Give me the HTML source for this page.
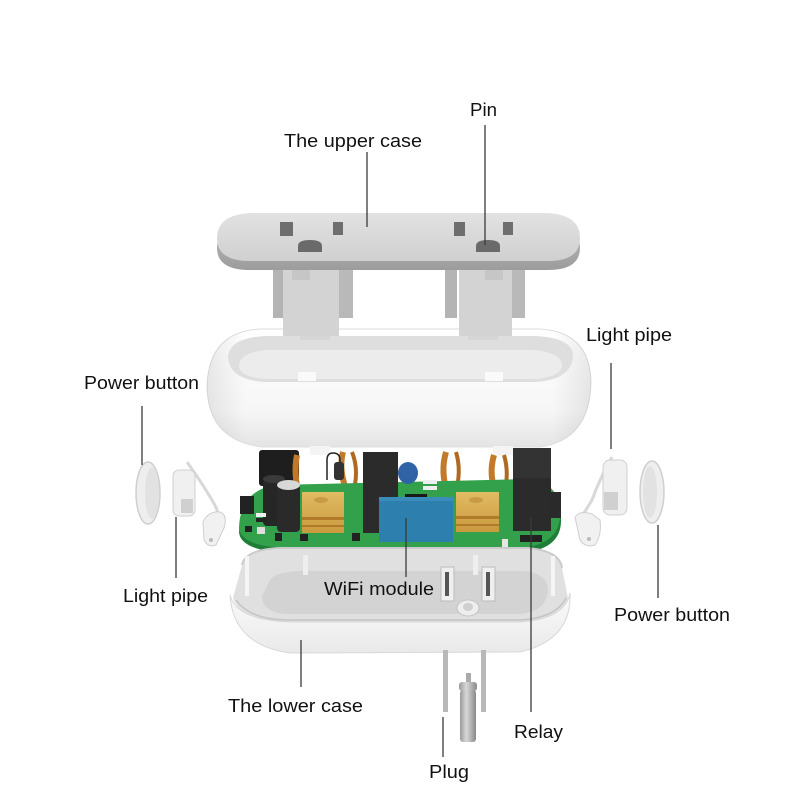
<!DOCTYPE html>
<html><head><meta charset="utf-8"><style>
html,body{margin:0;padding:0;background:#fff;}
svg{display:block;}
text{font-family:"Liberation Sans",Arial,sans-serif;font-size:18.5px;fill:#111;}
</style></head><body>
<svg width="800" height="800" viewBox="0 0 800 800" xmlns="http://www.w3.org/2000/svg">
<defs>
<linearGradient id="plateTop" x1="0" y1="0" x2="0" y2="1"><stop offset="0" stop-color="#e2e2e2"/><stop offset="1" stop-color="#d0d0d0"/></linearGradient>
<linearGradient id="plateEdge" x1="0" y1="0" x2="0" y2="1"><stop offset="0" stop-color="#bdbdbd"/><stop offset="1" stop-color="#9c9c9c"/></linearGradient>
<linearGradient id="shell" x1="0" y1="0" x2="0" y2="1"><stop offset="0" stop-color="#ffffff"/><stop offset="0.7" stop-color="#f6f6f6"/><stop offset="1" stop-color="#e4e4e4"/></linearGradient>
<linearGradient id="shellSide" x1="0" y1="0" x2="1" y2="0"><stop offset="0" stop-color="#000" stop-opacity="0.08"/><stop offset="0.1" stop-color="#000" stop-opacity="0"/><stop offset="0.9" stop-color="#000" stop-opacity="0"/><stop offset="1" stop-color="#000" stop-opacity="0.08"/></linearGradient>
<linearGradient id="gold" x1="0" y1="0" x2="0" y2="1"><stop offset="0" stop-color="#e2bb63"/><stop offset="1" stop-color="#c99a3e"/></linearGradient>
<linearGradient id="cyl" x1="0" y1="0" x2="1" y2="0"><stop offset="0" stop-color="#9a9a9a"/><stop offset="0.4" stop-color="#d8d8d8"/><stop offset="1" stop-color="#8a8a8a"/></linearGradient>
<linearGradient id="lowBody" x1="0" y1="0" x2="0" y2="1"><stop offset="0" stop-color="#fbfbfb"/><stop offset="1" stop-color="#e9e9e9"/></linearGradient>
</defs>

<!-- ===== Upper case (plate) ===== -->
<rect x="273" y="266" width="12" height="52" fill="#b4b4b4"/>
<rect x="338" y="266" width="15" height="52" fill="#b9b9b9"/>
<rect x="283" y="266" width="56" height="70" fill="#d3d3d3"/>
<rect x="292" y="266" width="18" height="14" fill="#c6c6c6"/>
<rect x="445" y="266" width="12" height="52" fill="#b4b4b4"/>
<rect x="510" y="266" width="15" height="52" fill="#b9b9b9"/>
<rect x="459" y="266" width="53" height="70" fill="#d3d3d3"/>
<rect x="485" y="266" width="18" height="14" fill="#c6c6c6"/>
<path d="M250,221 L548,221 Q580,223 580,248 Q580,270 548,270 L250,270 Q217,270 217,248 Q217,223 250,221 Z" fill="url(#plateEdge)"/>
<path d="M250,213 L548,213 Q580,215 580,238 Q580,261 548,261 L250,261 Q217,261 217,238 Q217,215 250,213 Z" fill="url(#plateTop)"/>
<rect x="280" y="222" width="13" height="14" fill="#6e6e6e"/>
<rect x="333" y="222" width="10" height="13" fill="#6e6e6e"/>
<rect x="454" y="222" width="11" height="14" fill="#6e6e6e"/>
<rect x="503" y="222" width="10" height="13" fill="#6e6e6e"/>
<path d="M298,252 L298,246 Q298,240 310,240 Q322,240 322,246 L322,252 Z" fill="#6a6a6a"/>
<path d="M476,252 L476,246 Q476,240 488,240 Q500,240 500,246 L500,252 Z" fill="#6a6a6a"/>

<!-- ===== Upper shell ===== -->
<path d="M260,329 L540,329 Q590,332 591,382 Q590,440 540,447 L262,447 Q208,440 207,387 Q208,332 260,329 Z" fill="url(#shell)" stroke="#dedede" stroke-width="1"/>
<path d="M260,329 L540,329 Q590,332 591,382 Q590,440 540,447 L262,447 Q208,440 207,387 Q208,332 260,329 Z" fill="url(#shellSide)"/>
<path d="M265,336 L535,336 Q575,338 573,358 Q570,380 535,382 L265,382 Q230,380 228,358 Q228,338 265,336 Z" fill="#dedede"/>
<path d="M268,350 L532,350 Q562,352 562,366 Q560,378 532,379 L268,379 Q240,378 239,366 Q239,352 268,350 Z" fill="#ececec"/>
<rect x="298" y="372" width="18" height="9" fill="#fafafa"/>
<rect x="485" y="372" width="18" height="9" fill="#fafafa"/>
<rect x="300" y="333" width="30" height="7" fill="#d6d6d6"/>
<rect x="468" y="333" width="30" height="7" fill="#d6d6d6"/>
<rect x="283" y="326" width="56" height="10" fill="#d3d3d3"/>
<rect x="459" y="326" width="53" height="10" fill="#d3d3d3"/>

<!-- ===== PCB ===== -->
<rect x="259" y="450" width="40" height="36" rx="3" fill="#1e1e1e"/>
<rect x="310" y="446" width="20" height="9" fill="#f4f4f4"/>
<rect x="493" y="446" width="20" height="9" fill="#f4f4f4"/>
<path d="M297,455 Q293,475 300,498" stroke="#c27a2a" stroke-width="6" fill="none"/>
<path d="M343,452 Q338,470 348,495" stroke="#c27a2a" stroke-width="6" fill="none"/>
<path d="M352,452 Q360,472 352,496" stroke="#b06a20" stroke-width="4" fill="none"/>
<path d="M446,452 Q440,472 448,495" stroke="#c27a2a" stroke-width="6" fill="none"/>
<path d="M456,452 Q462,472 455,494" stroke="#b06a20" stroke-width="4" fill="none"/>
<path d="M494,455 Q488,475 497,497" stroke="#c27a2a" stroke-width="6" fill="none"/>
<path d="M504,455 Q510,475 503,497" stroke="#b06a20" stroke-width="4" fill="none"/>
<path d="M327,480 L327,460 Q327,453 333,453 Q340,453 340,460 L340,480" stroke="#222" stroke-width="1.5" fill="none"/>
<rect x="334" y="462" width="10" height="18" rx="3" fill="#333"/>
<path d="M275,489 L530,483 Q562,488 561,522 Q560,550 520,553 L285,553 Q240,550 239,532 Q240,495 275,489 Z" fill="#1f7d38"/>
<path d="M275,485 L530,479 Q562,484 560,517 Q558,545 520,548 L285,548 Q241,546 239,528 Q240,491 275,485 Z" fill="#33a04b"/>
<rect x="240" y="496" width="14" height="18" fill="#222"/>
<rect x="551" y="492" width="10" height="26" fill="#2a2a2a"/>
<rect x="263" y="478" width="22" height="48" rx="4" fill="#262626"/>
<ellipse cx="274" cy="479" rx="11" ry="4" fill="#3a3a3a"/>
<rect x="277" y="484" width="23" height="48" rx="4" fill="#2a2a2a"/>
<ellipse cx="288.5" cy="485" rx="11.5" ry="5" fill="#d8d8d8"/>
<rect x="256" y="513" width="10" height="4" fill="#eee"/>
<rect x="256" y="518" width="10" height="4" fill="#222"/>
<rect x="245" y="526" width="7" height="6" fill="#222"/>
<rect x="257" y="527" width="8" height="7" fill="#ddd"/>
<rect x="275" y="533" width="7" height="8" fill="#222"/>
<rect x="352" y="533" width="8" height="8" fill="#222"/>
<rect x="300" y="534" width="8" height="7" fill="#222"/>
<rect x="423" y="480" width="14" height="4" fill="#eee"/>
<rect x="423" y="486" width="14" height="4" fill="#eee"/>
<rect x="405" y="494" width="22" height="3" fill="#1a1a1a"/>
<rect x="520" y="535" width="22" height="7" fill="#222"/>
<rect x="502" y="539" width="6" height="8" fill="#e6e6e6"/>
<rect x="302" y="492" width="42" height="41" fill="url(#gold)"/>
<rect x="302" y="517" width="42" height="3" fill="#b07a28"/>
<rect x="302" y="525" width="42" height="2" fill="#b07a28"/>
<ellipse cx="321" cy="500" rx="7" ry="3" fill="#c99a45"/>
<rect x="456" y="492" width="43" height="40" fill="url(#gold)"/>
<rect x="456" y="516" width="43" height="3" fill="#b07a28"/>
<rect x="456" y="524" width="43" height="2" fill="#b07a28"/>
<ellipse cx="476" cy="500" rx="7" ry="3" fill="#c99a45"/>
<rect x="363" y="452" width="35" height="81" fill="#2b2b2b"/>
<rect x="513" y="448" width="38" height="83" fill="#2b2b2b"/>
<rect x="513" y="448" width="38" height="30" fill="#333"/>
<ellipse cx="408" cy="473" rx="10" ry="11" fill="#2f63a6"/>
<rect x="379" y="497" width="74" height="45" fill="#2d7fae"/>
<rect x="379" y="497" width="74" height="4" fill="#3a8cba"/>

<!-- ===== Lower case ===== -->
<path d="M242,565 Q245,549 282,548 L528,548 Q560,551 562,568 L568,598 Q560,620 520,622 L282,622 Q240,620 233,598 Z" fill="#e0e0e0"/>
<path d="M270,580 Q275,572 300,571 L525,571 Q548,574 548,590 Q546,612 520,614 L285,614 Q262,612 262,596 Z" fill="#d3d3d3"/>
<path d="M242,565 Q245,549 282,548 L528,548 Q560,551 562,568" fill="none" stroke="#cbcbcb" stroke-width="2"/>
<rect x="245" y="556" width="4" height="40" fill="#f5f5f5"/>
<rect x="551" y="556" width="4" height="40" fill="#f5f5f5"/>
<rect x="303" y="555" width="5" height="20" fill="#eeeeee"/>
<rect x="473" y="555" width="5" height="20" fill="#eeeeee"/>
<rect x="441" y="567" width="13" height="34" fill="#efefef" stroke="#bbb" stroke-width="1"/>
<rect x="445" y="572" width="4" height="24" fill="#555"/>
<rect x="482" y="567" width="13" height="34" fill="#efefef" stroke="#bbb" stroke-width="1"/>
<rect x="486" y="572" width="4" height="24" fill="#555"/>
<ellipse cx="468" cy="608" rx="11" ry="8" fill="#eeeeee" stroke="#c4c4c4"/>
<ellipse cx="468" cy="607" rx="5" ry="4" fill="#cfcfcf"/>
<path d="M230,595 Q236,620 290,622 L520,622 Q565,619 570,593 Q572,640 520,652 L290,653 Q233,645 230,595 Z" fill="url(#lowBody)" stroke="#d8d8d8" stroke-width="1"/>
<path d="M236,600 Q250,620 290,620 L520,620 Q556,618 566,598" fill="none" stroke="#c4c4c4" stroke-width="1.5"/>

<!-- ===== Plug pins ===== -->
<rect x="443" y="650" width="5" height="62" fill="#b8b8b8"/>
<rect x="481" y="650" width="5" height="62" fill="#b8b8b8"/>
<rect x="466" y="673" width="5" height="12" fill="#aaa"/>
<rect x="459" y="682" width="18" height="9" rx="3" fill="url(#cyl)"/>
<rect x="460" y="690" width="16" height="52" rx="3" fill="url(#cyl)"/>

<!-- ===== Buttons & light pipes ===== -->
<ellipse cx="148" cy="493" rx="12" ry="31" fill="#eeeeee" stroke="#cfcfcf" stroke-width="1.5"/>
<ellipse cx="152" cy="493" rx="7" ry="26" fill="#e2e2e2"/>
<path d="M187,462 Q200,480 212,500 Q218,510 218,515" fill="none" stroke="#d8d8d8" stroke-width="3"/>
<rect x="173" y="470" width="22" height="46" rx="6" fill="#f0f0f0" stroke="#cfcfcf"/>
<rect x="181" y="499" width="12" height="14" fill="#d0d0d0"/>
<path d="M203,522 Q208,511 220,512 Q228,515 224,528 L216,545 Q208,548 204,540 Z" fill="#f1f1f1" stroke="#cfcfcf"/>
<circle cx="211" cy="540" r="2" fill="#bbb"/>
<path d="M612,457 Q600,478 592,500 Q586,510 582,516" fill="none" stroke="#d8d8d8" stroke-width="3"/>
<rect x="603" y="460" width="24" height="55" rx="7" fill="#f0f0f0" stroke="#cfcfcf"/>
<rect x="604" y="492" width="14" height="18" fill="#d0d0d0"/>
<path d="M575,517 Q580,510 592,514 L600,520 Q602,535 595,545 Q585,548 580,540 Z" fill="#f1f1f1" stroke="#cfcfcf"/>
<circle cx="589" cy="539" r="2" fill="#bbb"/>
<ellipse cx="652" cy="492" rx="12" ry="31" fill="#eeeeee" stroke="#cfcfcf" stroke-width="1.5"/>
<ellipse cx="650" cy="492" rx="7" ry="26" fill="#e2e2e2"/>

<!-- ===== Leader lines ===== -->
<g stroke="#3a3a3a" stroke-width="1.3">
<line x1="485" y1="125" x2="485" y2="245"/>
<line x1="367" y1="152" x2="367" y2="227"/>
<line x1="611" y1="363" x2="611" y2="449"/>
<line x1="142" y1="406" x2="142" y2="465"/>
<line x1="176" y1="517" x2="176" y2="578"/>
<line x1="658" y1="525" x2="658" y2="598"/>
<line x1="406" y1="518" x2="406" y2="577"/>
<line x1="531" y1="517" x2="531" y2="712"/>
<line x1="301" y1="640" x2="301" y2="687"/>
<line x1="443" y1="717" x2="443" y2="757"/>
</g>

<!-- ===== Labels ===== -->
<text x="470" y="116" textLength="27" lengthAdjust="spacingAndGlyphs">Pin</text>
<text x="284" y="147" textLength="138" lengthAdjust="spacingAndGlyphs">The upper case</text>
<text x="586" y="341" textLength="86" lengthAdjust="spacingAndGlyphs">Light pipe</text>
<text x="84" y="389" textLength="115" lengthAdjust="spacingAndGlyphs">Power button</text>
<text x="123" y="602" textLength="85" lengthAdjust="spacingAndGlyphs">Light pipe</text>
<text x="324" y="595" textLength="110" lengthAdjust="spacingAndGlyphs">WiFi module</text>
<text x="614" y="621" textLength="116" lengthAdjust="spacingAndGlyphs">Power button</text>
<text x="228" y="712" textLength="135" lengthAdjust="spacingAndGlyphs">The lower case</text>
<text x="514" y="738" textLength="49" lengthAdjust="spacingAndGlyphs">Relay</text>
<text x="429" y="778" textLength="40" lengthAdjust="spacingAndGlyphs">Plug</text>
</svg>
</body></html>
